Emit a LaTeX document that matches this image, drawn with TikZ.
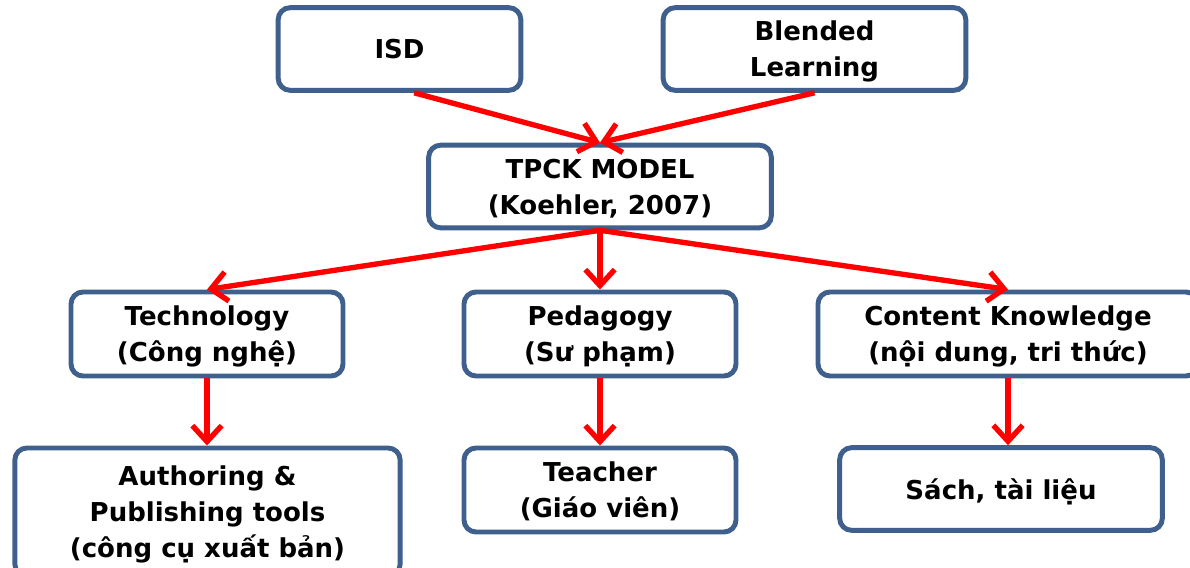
\documentclass[tikz,border=0pt]{standalone}
\usepackage{fontspec}
\setmainfont{DejaVu Sans}
\usetikzlibrary{arrows.meta}
\definecolor{boxblue}{RGB}{63,95,140}
\tikzset{
	box/.style={draw=boxblue, line width=3.7pt, rounded corners=9pt, fill=white,
		align=center, inner sep=0pt, minimum height=62pt, text depth=0pt,
		font=\bfseries\fontsize{19.5}{27}\selectfont},
	link/.style={red, line width=4pt, -{Straight Barb[length=12pt,width=22pt]}}
}
\begin{document}
\begin{tikzpicture}[x=0.75pt,y=-0.75pt]
			%frame
			\useasboundingbox (0,0) rectangle (1190,568);
			\clip (0,0) rectangle (1190,568);
			%top row
			\node[box, minimum width=182pt] (isd) at (399.5,49) {ISD};
			\node[box, minimum width=227pt] (blend) at (814.5,49) {Blended\\Learning};
			%model
			\node[box, minimum width=257pt] (tpck) at (600,186.5) {TPCK MODEL\\(Koehler, 2007)};
			%middle row
			\node[box, minimum width=204pt, minimum height=63pt] (tech) at (207,334) {Technology\\(Công nghệ)};
			\node[box, minimum width=204pt, minimum height=63pt] (peda) at (600,334) {Pedagogy\\(Sư phạm)};
			\node[box, minimum width=285pt, minimum height=63pt] (cont) at (1008,334) {Content Knowledge\\(nội dung, tri thức)};
			%bottom row
			\node[box, minimum width=289pt, minimum height=96pt] (auth) at (207.5,512) {Authoring \&\\Publishing tools\\(công cụ xuất bản)};
			\node[box, minimum width=204pt, minimum height=63pt] (teach) at (600,490) {Teacher\\(Giáo viên)};
			\node[box, minimum width=242pt] (book) at (1001,489) {Sách, tài liệu};
			% arrows
			\draw[link] ([xshift=11pt]isd.south) -- (tpck.north);
			\draw[link] (blend.south) -- (tpck.north);
			\foreach \n in {tech,peda,cont}
				\draw[link] (tpck.south) -- (\n.north);
			\draw[link] (tech.south) -- (tech.south |- auth.north);
			\draw[link] (peda.south) -- (teach.north);
			\draw[link] (cont.south) -- (cont.south |- book.north);
		\end{tikzpicture}
\end{document}
